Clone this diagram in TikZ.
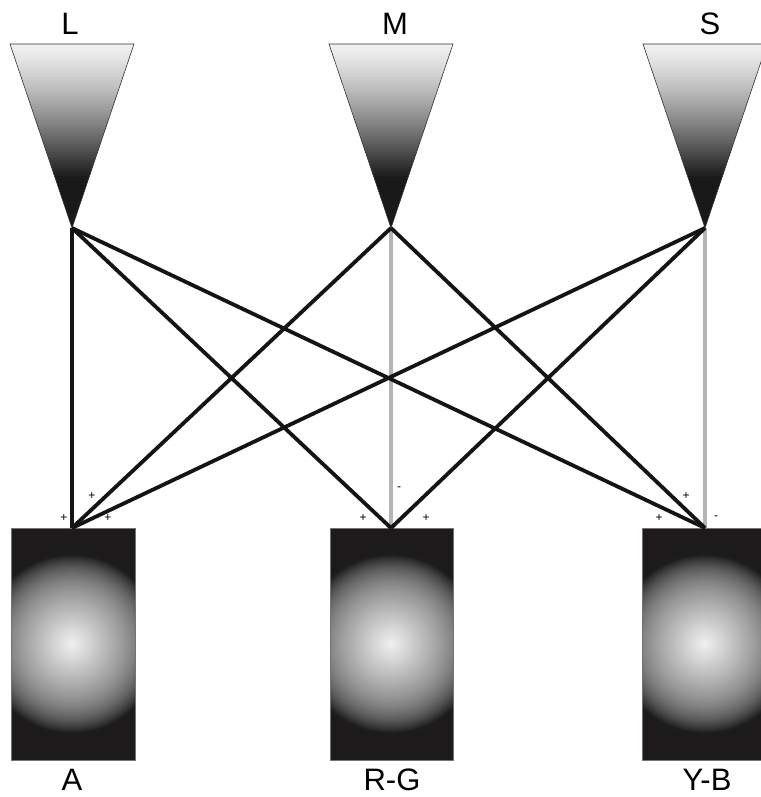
\documentclass[tikz,border=0pt]{standalone}
\usepackage{fontspec}
\setmainfont{Liberation Sans}
\definecolor{rectblack}{HTML}{1C1A1A}
\definecolor{lgray}{HTML}{B4B4B4}
\tikzset{
  conn/.style={line width=3.8pt, draw=black!92},
  connlight/.style={line width=3.8pt, draw=lgray},
  biglabel/.style={font=\fontsize{31}{31}\selectfont, anchor=base, inner sep=0pt},
  sign/.style={font=\fontsize{12}{12}\selectfont, inner sep=0pt},
  apex/.style={inner sep=0pt, minimum size=0pt},
}
\newcommand{\conetri}[1]{%
  \begin{scope}
    \clip (#1-62,44) -- (#1+62,44) -- (#1,228) -- cycle;
    \foreach \i in {0,...,92} {
      \pgfmathsetmacro{\yy}{44+2*\i}
      \pgfmathsetmacro{\tt}{(2*\i)/184}
      \pgfmathsetmacro{\pp}{min(90, 6 + 84*(\tt/0.72)^1.3)}
      \fill[black!\pp] (#1-63,\yy) rectangle (#1+63,\yy+2.3);
    }
  \end{scope}
  \draw[line width=0.6pt, black!80] (#1-62,44) -- (#1+62,44) -- (#1,228) -- cycle;
}
\newcommand{\glowrect}[3]{% x-left, x-right, centre x
  \fill[rectblack] (#1,528) rectangle (#2,760);
  \begin{scope}
    \clip (#1,528) rectangle (#2,760);
    \foreach \i in {50,...,1} {
      \pgfmathsetmacro{\rr}{1.85*\i}
      \pgfmathsetmacro{\ss}{\i/50}
      \pgfmathsetmacro{\pp}{min(89, 5 + 60*\ss + 30*\ss^6)}
      \fill[black!\pp] (#3,644) circle (\rr);
    }
  \end{scope}
  \draw[line width=0.6pt, black!55] (#1,528) rectangle (#2,760);
}
\begin{document}
\begin{tikzpicture}[x=1pt,y=-1pt]
\useasboundingbox (0,0) rectangle (760,797);
\fill[white] (0,0) rectangle (760,797);
% cones
\conetri{72}
\conetri{391}
\conetri{705}
% receptive fields
\glowrect{11}{135}{72}
\glowrect{330}{453}{391}
\glowrect{642}{770}{705}
% named points
\node[apex] (L) at (72,228) {};
\node[apex] (M) at (391,228) {};
\node[apex] (S) at (705,228) {};
\node[apex] (A) at (72,528) {};
\node[apex] (RG) at (391,528) {};
\node[apex] (YB) at (705,528) {};
% connectors
\draw[connlight] (M.center) -- (RG.center);
\draw[connlight] (S.center) -- (YB.center);
\draw[conn] (L.center) -- (A.center);
\draw[conn] (L.center) -- (RG.center);
\draw[conn] (L.center) -- (YB.center);
\draw[conn] (M.center) -- (A.center);
\draw[conn] (M.center) -- (YB.center);
\draw[conn] (S.center) -- (A.center);
\draw[conn] (S.center) -- (RG.center);
% labels
\node[biglabel] (tL) at (70,35) {L};
\node[biglabel] (tM) at (395,35) {M};
\node[biglabel] (tS) at (710,35) {S};
\node[biglabel] (tA) at (72,790) {A};
\node[biglabel] (tRG) at (392,790) {R-G};
\node[biglabel] (tYB) at (707,790) {Y-B};
% signs
\node[sign] (sA1) at (64,518) {+};
\node[sign] (sA2) at (92,496) {+};
\node[sign] (sA3) at (108,518) {+};
\node[sign] (sR1) at (363,518) {+};
\node[sign] (sR2) at (399,489) {-};
\node[sign] (sR3) at (426,518) {+};
\node[sign] (sY1) at (659,518) {+};
\node[sign] (sY2) at (686,496) {+};
\node[sign] (sY3) at (716,518) {-};
\end{tikzpicture}
\end{document}
